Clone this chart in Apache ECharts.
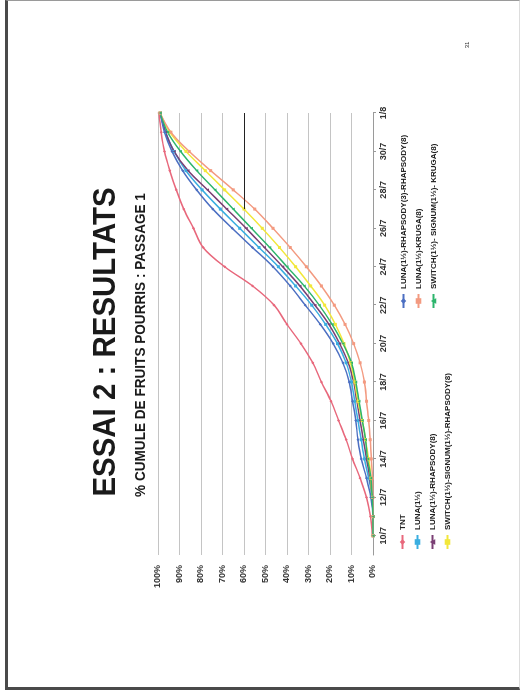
<!DOCTYPE html>
<html>
<head>
<meta charset="utf-8">
<script src="https://cdn.jsdelivr.net/npm/echarts@6/dist/echarts.min.js"></script>
<style>
html,body{margin:0;padding:0;background:#fff;width:520px;height:690px;overflow:hidden;}
#frame{position:absolute;left:5px;top:0;width:515px;height:690px;box-sizing:border-box;border-left:3px solid #4a4a4a;border-bottom:3px solid #4a4a4a;border-top:1px solid #9a9a9a;border-right:1px solid #dddddd;}
#chart{position:absolute;left:0;top:0;width:690px;height:520px;transform-origin:0 0;transform:translate(0,690px) rotate(-90deg);}
</style>
</head>
<body>
<div id="frame"></div>
<div id="chart"></div>
<script>
// Categories (days)
const dates = ['9/7','10/7','11/7','12/7','13/7','14/7','15/7','16/7','17/7','18/7','19/7','20/7','21/7','22/7','23/7','24/7','25/7','26/7','27/7','28/7','29/7','30/7','31/7','1/8'];

// Series names
const seriesNames = [
  'TNT',
  'LUNA(1½)',
  'LUNA(1½)-RHAPSODY(8)',
  'SWITCH(1½)-SIGNUM(1½)-RHAPSODY(8)',
  'LUNA(1½)-RHAPSODY(3)-RHAPSODY(8)',
  'LUNA(1½)-KRUGA(8)',
  'SWITCH(1½)- SIGNUM(1½)- KRUGA(8)'
];

// Cumulative % of rotten fruits
const tnt               = [null,0.3,1.2,3,6,9.5,12.5,16,19.5,24,28,33.5,40,46,56,69,79,83.5,88,91.5,94.5,97,98.5,99.5];
const luna              = [null,0,0,0.5,2,4,5.5,7,8.5,10,12.5,16.5,22,28.5,36,44,53,62,71,79.5,87,92.5,96.5,99];
const lunaRhap8         = [null,0,0,0.3,1.5,3,4.5,6,7.5,9,11.5,15.5,20.5,27,34,42,50.5,59,68,77,86,92.5,96.5,99];
const switchSignumRhap  = [null,0,0,0.5,1,2,3.5,5,7,8.5,10.5,13.5,17.5,22.5,29,36,43.5,51.5,60,69,78,87,94.5,99];
const lunaRhapRhap      = [null,0,0,1,3,5.5,7,8,9.5,11,14,18.5,24.5,31.5,38.5,46.5,56,65.5,74.5,82,88.5,93.5,97,99];
const lunaKruga         = [null,0,0,0,0.3,0.8,1.3,2,3,4,6,9,13,18,24,31,38.5,46.5,55,65,75.5,85.5,94,99];
const switchSignumKruga = [null,0,0,0.3,1,2.5,3.5,5,6.5,8,10,14,19,25,32,40,48,56.5,65,73.5,82,89.5,95.5,99];

const seriesData = [tnt, luna, lunaRhap8, switchSignumRhap, lunaRhapRhap, lunaKruga, switchSignumKruga];
const colors = ['#e8687c','#3aaee0','#7a3f74','#f2e73a','#4c6fc2','#f39a80','#2db56c'];
const symbols = ['diamond','rect','triangle','rect','diamond','rect','triangle'];

const font = '"Liberation Sans", Arial, sans-serif';

const chart = echarts.init(document.getElementById('chart'), null, {renderer:'canvas', width:690, height:520});

const series = seriesNames.map((n, i) => ({
  name: n,
  type: 'line',
  data: seriesData[i],
  smooth: 0.35,
  connectNulls: false,
  symbol: symbols[i],
  symbolSize: 3,
  showSymbol: true,
  lineStyle: {color: colors[i], width: 1.5},
  itemStyle: {color: colors[i]},
  z: 3
}));
series[0].markLine = {
  silent: true,
  symbol: 'none',
  label: {show: false},
  lineStyle: {color: '#222', width: 1, type: 'solid'},
  data: [[{coord: ['1/8', 60]}, {coord: ['27/7', 60]}]]
};

const legendText = {fontSize: 8, fontWeight: 'bold', fontFamily: font, color: '#222', lineHeight: 9};

chart.setOption({
  animation: false,
  backgroundColor: 'transparent',
  grid: {left: 135, right: 113, top: 158, bottom: 147},
  xAxis: {
    type: 'category',
    data: dates,
    boundaryGap: false,
    axisLine: {lineStyle: {color: '#9a9a9a', width: 1}},
    axisTick: {show: true, length: 3, interval: (i) => i % 2 === 1, lineStyle: {color: '#9a9a9a'}},
    axisLabel: {interval: (i) => i % 2 === 1, fontSize: 9, fontWeight: 'bold', fontFamily: font, color: '#333', margin: 6},
    splitLine: {show: false}
  },
  yAxis: {
    type: 'value',
    min: 0, max: 100, interval: 10,
    axisLine: {show: false},
    axisTick: {show: false},
    axisLabel: {formatter: '{value}%', fontSize: 9, fontWeight: 'bold', fontFamily: font, color: '#333', margin: 10},
    splitLine: {lineStyle: {color: '#c4c4c4', width: 1}}
  },
  legend: [
    {
      data: seriesNames.slice(0, 4),
      orient: 'vertical', left: 140, top: 398, padding: 0,
      itemGap: 6, itemWidth: 14, itemHeight: 7,
      textStyle: legendText
    },
    {
      data: seriesNames.slice(4),
      orient: 'vertical', left: 381, top: 399, padding: 0,
      itemGap: 6, itemWidth: 14, itemHeight: 7,
      textStyle: legendText
    }
  ],
  graphic: [
    {type: 'text', x: 348, y: 106, scaleX: 0.92, style: {text: 'ESSAI 2 : RESULTATS', font: 'bold 32px ' + font, fill: '#1a1a1a', align: 'center', verticalAlign: 'middle'}},
    {type: 'text', x: 345, y: 141, scaleX: 0.97, style: {text: '% CUMULE DE FRUITS POURRIS : PASSAGE 1', font: 'bold 14px ' + font, fill: '#1a1a1a', align: 'center', verticalAlign: 'middle'}},
    {type: 'text', x: 645, y: 467, style: {text: '31', font: '6px ' + font, fill: '#333', align: 'center', verticalAlign: 'middle'}}
  ],
  series: series
});
</script>
</body>
</html>
